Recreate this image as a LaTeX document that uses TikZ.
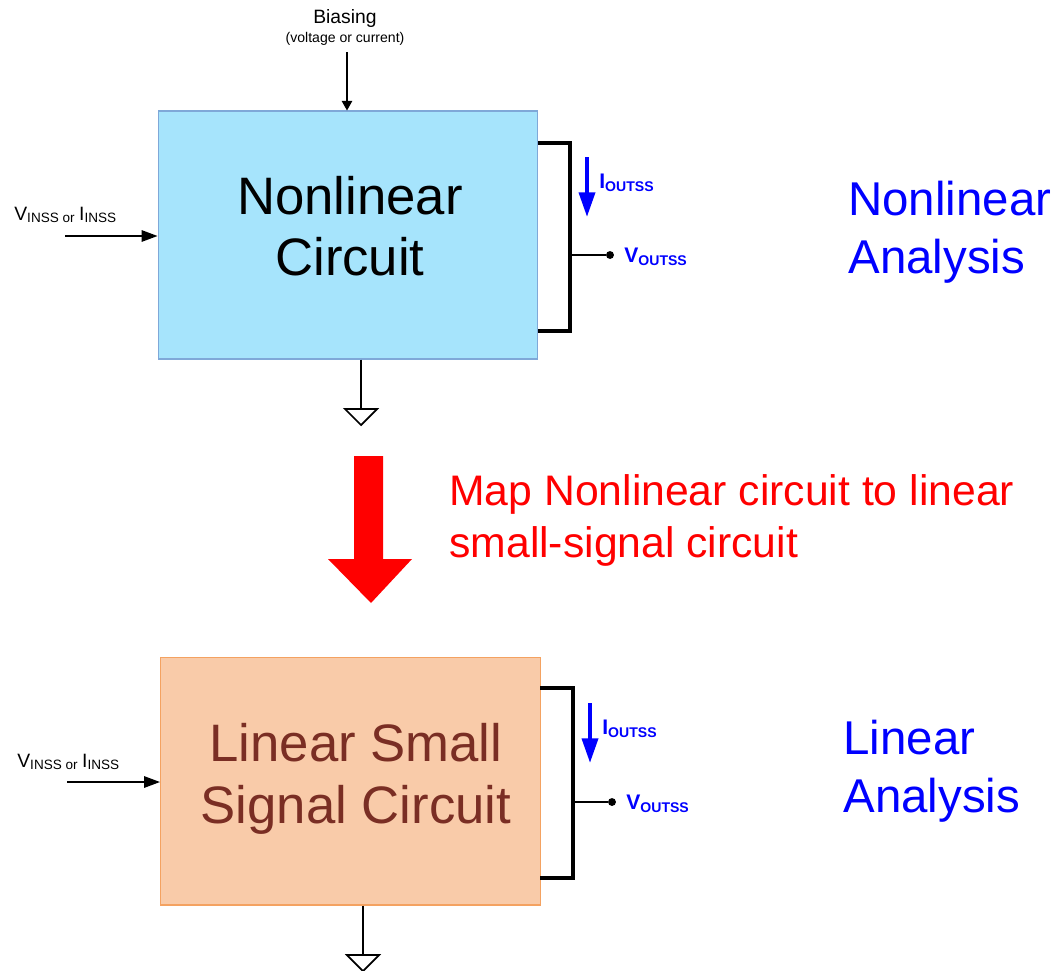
\documentclass[tikz,border=0pt]{standalone}
\usepackage{fontspec}
\setmainfont{Liberation Sans}
\usepackage{tikz}
\usetikzlibrary{positioning, arrows, arrows.meta, calc}
\definecolor{nlfill}{HTML}{A6E4FC}
\definecolor{nledge}{HTML}{7FA8D8}
\definecolor{lsfill}{HTML}{F9CBA9}
\definecolor{lsedge}{HTML}{F4A261}
\definecolor{lstext}{HTML}{7A2E24}
\tikzset{style={font=\fontsize{11}{13}\selectfont}}

\begin{document}
\begin{tikzpicture}[x=0.02cm,y=-0.02cm,>=stealth,black,
            cktbox/.style={draw,line width=0.6pt,minimum width=7.6cm,minimum height=4.96cm,inner sep=0pt},
            bigtxt/.style={align=center,font=\fontsize{30}{35}\selectfont},
            sidetxt/.style={blue,align=left,anchor=north west,inner sep=0pt,font=\fontsize{27}{33}\selectfont},
            maptxt/.style={red,anchor=base west,inner sep=0pt,font=\fontsize{24.3}{29}\selectfont},
            inlbl/.style={anchor=base west,inner sep=0pt,font=\fontsize{11}{13}\selectfont},
            outlbl/.style={blue,anchor=base west,inner sep=0pt,font=\fontsize{12}{14}\selectfont\bfseries},
            inarrow/.style={-{Triangle[length=9pt,width=6.5pt]},line width=0.8pt},
            curarrow/.style={-{Triangle[length=14pt,width=9pt]},blue,line width=2.3pt},
            bracket/.style={line width=2.2pt},
            gnd/.style={line width=1pt,line join=miter},
            dot/.style={circle,fill=black,inner sep=0pt,minimum size=4.5pt}]
    \useasboundingbox (0,0) rectangle (1061,970);

    % nonlinear circuit
    \node[cktbox,fill=nlfill,draw=nledge] (nl) at (348,235) {};
    \node[bigtxt] (nltxt) at (350,226) {Nonlinear\\Circuit};
    \node[anchor=base,inner sep=0pt] (bias) at (345,23) {Biasing};
    \node[anchor=base,inner sep=0pt,font=\fontsize{8}{9}\selectfont] (biasnote) at (345,42) {(voltage or current)};
    \coordinate (biasin) at (347,52);
    \draw[-{Triangle[length=5.5pt,width=6pt]},line width=0.7pt] (biasin) -- (biasin |- nl.north);
    \node[inlbl] (vin1) at (14,220) {V\textsubscript{INSS or~}I\textsubscript{INSS}};
    \coordinate (in1) at (65,236);
    \draw[inarrow] (in1) -- (in1 -| nl.west);
    \draw[bracket] (538,143) -| (570,331) -- (538,331);
    \node[dot] (vo1) at (610,255) {};
    \draw[line width=0.6pt] (570,255) -- (vo1);
    \node[outlbl] (vout1) at (624,262) {V\textsubscript{OUTSS}};
    \coordinate (i1s) at (587,157);
    \coordinate (i1e) at (587,217);
    \draw[curarrow] (i1s) -- (i1e);
    \node[outlbl] (iout1) at (599,188) {I\textsubscript{OUTSS}};
    \coordinate (g1) at (361,409);
    \draw[gnd] (nl.south -| g1) -- (g1);
    \draw[gnd] (g1) ++(-16,0) -- ++(32,0) -- (361,425) -- cycle;
    \node[sidetxt] (nla) at (848,181) {Nonlinear\\Analysis};

    % mapping arrow
    \fill[red] (354,456) -- (383,456) -- (383,559) -- (412,559) -- (371,603)
        -- (328,559) -- (354,559) -- cycle;
    \node[maptxt] (map1) at (449,505) {Map Nonlinear circuit to linear};
    \node[maptxt] (map2) at (449,557) {small-signal circuit};

    % linear small signal circuit
    \node[cktbox,fill=lsfill,draw=lsedge] (ls) at (350.5,781) {};
    \node[bigtxt,lstext] (lstxt) at (356,779) {Linear Small\\Signal Circuit};
    \node[inlbl] (vin2) at (17,767) {V\textsubscript{INSS or~}I\textsubscript{INSS}};
    \coordinate (in2) at (67,782);
    \draw[inarrow] (in2) -- (in2 -| ls.west);
    \draw[bracket] (540,688) -| (573,878) -- (540,878);
    \node[dot] (vo2) at (612,802) {};
    \draw[line width=0.6pt] (573,802) -- (vo2);
    \node[outlbl] (vout2) at (626,809) {V\textsubscript{OUTSS}};
    \coordinate (i2s) at (590,703);
    \coordinate (i2e) at (590,763);
    \draw[curarrow] (i2s) -- (i2e);
    \node[outlbl] (iout2) at (602,734) {I\textsubscript{OUTSS}};
    \coordinate (g2) at (363,955);
    \draw[gnd] (ls.south -| g2) -- (g2);
    \draw[gnd] (g2) ++(-16,0) -- ++(32,0) -- (363,971) -- cycle;
    \node[sidetxt] (lsa) at (843,720) {Linear\\Analysis};
\end{tikzpicture}
\end{document}
